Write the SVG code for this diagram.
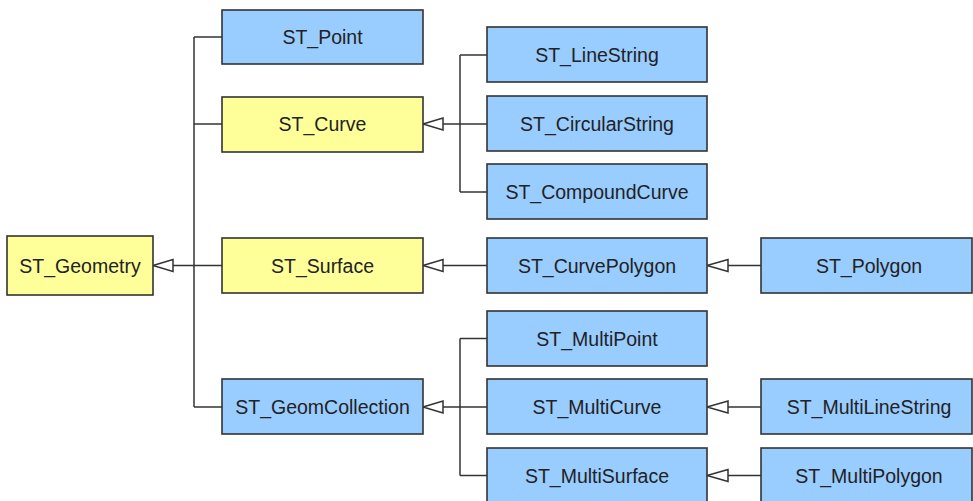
<svg xmlns="http://www.w3.org/2000/svg" width="973" height="501" viewBox="0 0 973 501">
<style>
.b{fill:#99CCFF;stroke:#333;stroke-width:1.6}
.y{fill:#FFFF99;stroke:#333;stroke-width:1.6}
text{font-family:"Liberation Sans",Arial,sans-serif;font-size:19.5px;fill:#222;text-anchor:middle}
.c line{stroke:#333;stroke-width:1.5}
.c polygon{fill:#fff;stroke:#333;stroke-width:1.5}
</style>
<rect width="973" height="501" fill="#fff"/>
<g class="c" id="connectors">
<line x1="194" y1="37" x2="194" y2="407"/>
<line x1="194" y1="37" x2="222" y2="37"/>
<line x1="194" y1="124" x2="222" y2="124"/>
<line x1="194" y1="407" x2="222" y2="407"/>
<line x1="173" y1="265.5" x2="222" y2="265.5"/>
<polygon points="153,265.5 173,259.5 173,271.5"/>
<line x1="460" y1="55" x2="460" y2="192"/>
<line x1="460" y1="55" x2="487" y2="55"/>
<line x1="460" y1="192" x2="487" y2="192"/>
<line x1="443" y1="124" x2="487" y2="124"/>
<polygon points="423,124 443,118 443,130"/>
<line x1="443" y1="265.5" x2="487" y2="265.5"/>
<polygon points="423,265.5 443,259.5 443,271.5"/>
<line x1="728" y1="265.5" x2="761" y2="265.5"/>
<polygon points="707,265.5 728,259.5 728,271.5"/>
<line x1="460" y1="338.5" x2="460" y2="475.5"/>
<line x1="460" y1="338.5" x2="487" y2="338.5"/>
<line x1="460" y1="475.5" x2="487" y2="475.5"/>
<line x1="443" y1="407" x2="487" y2="407"/>
<polygon points="423,407 443,401 443,413"/>
<line x1="728" y1="407" x2="761" y2="407"/>
<polygon points="707,407 728,401 728,413"/>
<line x1="728" y1="475.5" x2="761" y2="475.5"/>
<polygon points="707,475.5 728,469.5 728,481.5"/>
</g>
<g id="ST_Geometry"><rect class="y" x="7" y="236" width="146" height="59"/><text x="80" y="272.5">ST_Geometry</text></g>
<g id="ST_Point"><rect class="b" x="222" y="10" width="201" height="54"/><text x="322.5" y="44">ST_Point</text></g>
<g id="ST_Curve"><rect class="y" x="222" y="97" width="201" height="55"/><text x="322.5" y="131">ST_Curve</text></g>
<g id="ST_Surface"><rect class="y" x="222" y="238" width="201" height="55"/><text x="322.5" y="272.5">ST_Surface</text></g>
<g id="ST_GeomCollection"><rect class="b" x="222" y="379" width="201" height="55"/><text x="322.5" y="414">ST_GeomCollection</text></g>
<g id="ST_LineString"><rect class="b" x="487" y="27" width="220" height="55"/><text x="597" y="61.5">ST_LineString</text></g>
<g id="ST_CircularString"><rect class="b" x="487" y="96" width="220" height="55"/><text x="597" y="130.5">ST_CircularString</text></g>
<g id="ST_CompoundCurve"><rect class="b" x="487" y="164" width="220" height="55"/><text x="597" y="198.5">ST_CompoundCurve</text></g>
<g id="ST_CurvePolygon"><rect class="b" x="487" y="238" width="220" height="55"/><text x="597" y="272.5">ST_CurvePolygon</text></g>
<g id="ST_MultiPoint"><rect class="b" x="487" y="311" width="220" height="55"/><text x="597" y="345.5">ST_MultiPoint</text></g>
<g id="ST_MultiCurve"><rect class="b" x="487" y="379" width="220" height="55"/><text x="597" y="414">ST_MultiCurve</text></g>
<g id="ST_MultiSurface"><rect class="b" x="487" y="448" width="220" height="56"/><text x="597" y="482.5">ST_MultiSurface</text></g>
<g id="ST_Polygon"><rect class="b" x="761" y="238" width="211" height="55"/><text x="869" y="272.5">ST_Polygon</text></g>
<g id="ST_MultiLineString"><rect class="b" x="761" y="379" width="211" height="55"/><text x="869" y="414">ST_MultiLineString</text></g>
<g id="ST_MultiPolygon"><rect class="b" x="761" y="448" width="211" height="56"/><text x="869" y="482.5">ST_MultiPolygon</text></g>
</svg>
